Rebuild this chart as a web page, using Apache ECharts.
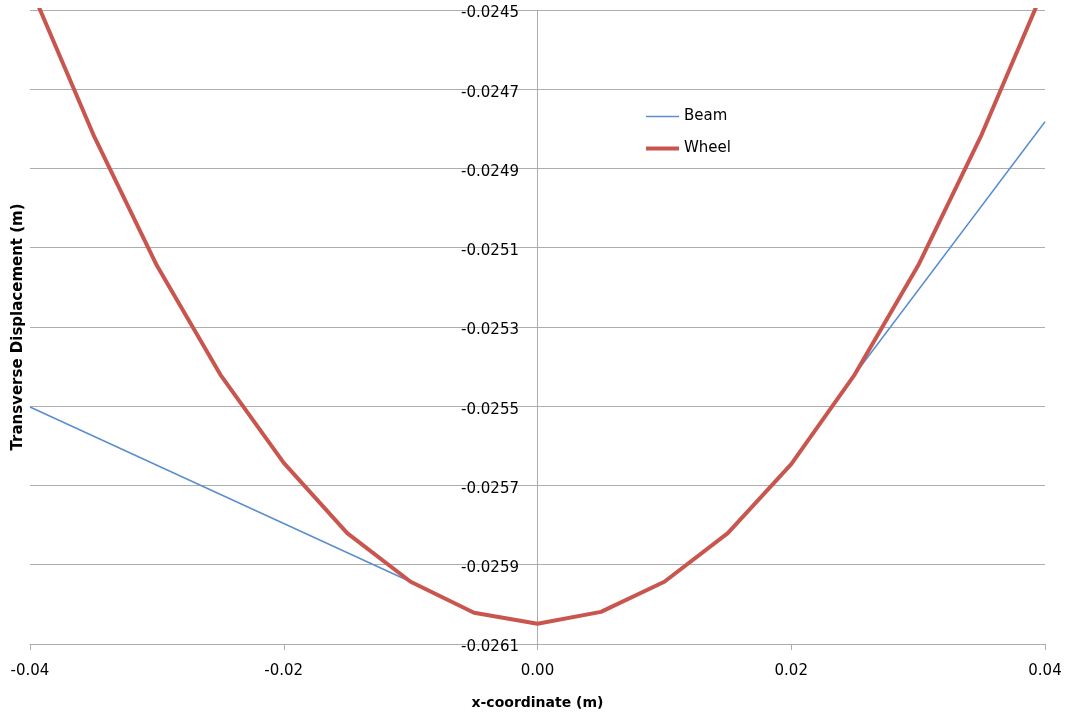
<!DOCTYPE html>
<html>
<head>
<meta charset="utf-8">
<title>Transverse Displacement</title>
<script src="https://cdn.jsdelivr.net/npm/echarts@6/dist/echarts.min.js"></script>
<style>
  html, body { margin: 0; padding: 0; background: #fff; }
  #chart { width: 1065px; height: 715px; }
</style>
</head>
<body>
<div id="chart"></div>
<script>
// x positions (m)
const xCoords = [-0.04, -0.035, -0.03, -0.025, -0.02, -0.015, -0.01, -0.005, 0,
                 0.005, 0.01, 0.015, 0.02, 0.025, 0.03, 0.035, 0.04];
// wheel transverse displacement (m)
const wheelValues = [-0.02444, -0.024815, -0.025145, -0.02542, -0.025643, -0.02582, -0.025943, -0.026021, -0.026049,
                     -0.026019, -0.025943, -0.02582, -0.025646, -0.02542, -0.025145, -0.024815, -0.02444];
// beam: only the points that the drawn polyline actually bends at
const beamX = [-0.04, -0.01, -0.005, 0, 0.005, 0.01, 0.015, 0.02, 0.025, 0.04];
const beamValues = [-0.025502, -0.025943, -0.026021, -0.026049, -0.026019, -0.025943, -0.02582, -0.025646, -0.02542, -0.024782];

const seriesNames = ['Beam', 'Wheel'];

document.addEventListener('DOMContentLoaded', () => {
    const myChart = echarts.init(document.getElementById('chart'));
    const font = 'DejaVu Sans';
    const gridColor = '#adadad';
    const beamColor = '#5a8ecf';
    const wheelColor = '#c9554f';

    const option = {
        animation: false,
        grid: { left: 30, right: 20, top: 10, bottom: 71, containLabel: false, outerBoundsMode: 'none' },
        legend: {
            data: [
                { name: seriesNames[0], lineStyle: { width: 1.5, color: beamColor } },
                { name: seriesNames[1], lineStyle: { width: 4, color: wheelColor } }
            ],
            orient: 'vertical',
            left: 639,
            top: 104,
            itemWidth: 33,
            itemHeight: 16,
            itemGap: 17,
            itemStyle: { color: 'transparent', borderWidth: 0, opacity: 0 },
            textStyle: { fontFamily: font, fontSize: 15, color: '#000' }
        },
        xAxis: {
            type: 'value',
            min: -0.04,
            max: 0.04,
            interval: 0.02,
            name: 'x-coordinate (m)',
            nameLocation: 'middle',
            nameGap: 52,
            nameTextStyle: { fontFamily: font, fontSize: 14, fontWeight: 'bold', color: '#000' },
            axisLine: { show: true, onZero: false, lineStyle: { color: gridColor } },
            axisTick: { show: true, length: 6, lineStyle: { color: gridColor } },
            splitLine: { show: false },
            axisLabel: {
                fontFamily: font, fontSize: 15, color: '#000', margin: 20,
                formatter: v => v.toFixed(2)
            }
        },
        yAxis: {
            type: 'value',
            min: -0.0261,
            max: -0.0245,
            interval: 0.0002,
            axisLine: { show: true, onZero: true, lineStyle: { color: gridColor } },
            axisTick: { show: false },
            splitLine: { show: true, lineStyle: { color: gridColor, width: 1 } },
            axisLabel: {
                fontFamily: font, fontSize: 15, color: '#000', margin: -489,
                formatter: v => '{v|' + v.toFixed(4) + '}',
                rich: {
                    v: { fontFamily: font, fontSize: 15, color: '#000', padding: [7, 0, 0, 0] }
                }
            }
        },
        graphic: [{
            type: 'text',
            x: 18,
            y: 327,
            rotation: Math.PI / 2,
            style: {
                text: 'Transverse Displacement (m)',
                fontFamily: font, fontSize: 15, fontWeight: 'bold', fill: '#000',
                align: 'center', verticalAlign: 'middle'
            }
        }],
        series: [
            {
                name: 'Beam',
                type: 'line',
                symbol: 'none',
                clip: true,
                data: beamX.map((x, i) => [x, beamValues[i]]),
                lineStyle: { color: beamColor, width: 1.5 },
                itemStyle: { color: beamColor }
            },
            {
                name: 'Wheel',
                type: 'line',
                symbol: 'none',
                clip: true,
                data: xCoords.map((x, i) => [x, wheelValues[i]]),
                lineStyle: { color: wheelColor, width: 4 },
                itemStyle: { color: wheelColor }
            }
        ]
    };
    myChart.setOption(option);
    window.addEventListener('resize', () => myChart.resize());
});
</script>
</body>
</html>
